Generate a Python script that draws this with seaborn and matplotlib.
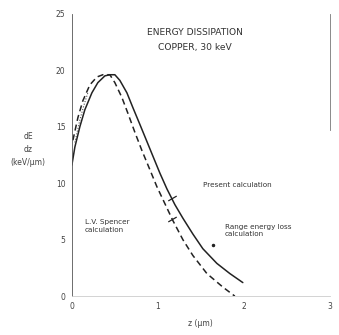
import matplotlib
matplotlib.use("Agg")
import matplotlib.pyplot as plt
import seaborn as sns

# Data (z in micrometres, dE/dz in keV/um)
present_z = [0.0, 0.035, 0.093, 0.151, 0.233, 0.302, 0.384, 0.442, 0.500, 0.558, 0.640,
             0.709, 0.791, 0.872, 0.942, 1.023, 1.105, 1.198, 1.291, 1.407, 1.523,
             1.686, 1.837, 1.988]
present_e = [11.6, 13.2, 15.0, 16.5, 18.0, 18.9, 19.5, 19.6, 19.6, 19.1, 18.0,
             16.7, 15.2, 13.7, 12.4, 10.9, 9.5, 8.1, 6.9, 5.5, 4.2,
             2.9, 2.0, 1.2]

spencer_z = [0.012, 0.070, 0.128, 0.209, 0.291, 0.360, 0.442, 0.500, 0.581, 0.651,
             0.733, 0.814, 0.907, 0.988, 1.081, 1.174, 1.291, 1.407, 1.570, 1.756, 1.895]
spencer_e = [13.8, 15.8, 17.3, 18.7, 19.4, 19.6, 19.6, 18.9, 17.6, 16.2,
             14.5, 12.9, 11.2, 9.7, 8.2, 6.7, 5.0, 3.6, 2.0, 0.8, 0.0]

range_z = [0.035, 0.093, 0.14, 0.19]
range_e = [13.6, 15.6, 16.9, 18.1]

x_ticks = [0, 1, 2, 3]
y_ticks = [0, 5, 10, 15, 20, 25]

sns.set_theme(style="white")
plt.rcParams['font.family'] = ['DejaVu Sans']

fig = plt.figure(figsize=(3.39, 3.35), dpi=100)
ax = fig.add_axes([0.212, 0.116, 0.761, 0.843])

ink = "#222222"
sns.lineplot(x=present_z, y=present_e, ax=ax, color=ink, lw=1.1, sort=False)
sns.lineplot(x=spencer_z, y=spencer_e, ax=ax, color=ink, lw=1.1, sort=False,
             linestyle=(0, (4, 2.5)))
sns.lineplot(x=range_z, y=range_e, ax=ax, color="#555555", lw=0.8, sort=False,
             linestyle=(0, (1, 1.5)))

ax.set_xlim(0, 3.0)
ax.set_ylim(0, 25)
ax.set_xticks(x_ticks)
ax.set_yticks(y_ticks)
ax.tick_params(axis='both', labelsize=5.5, colors="#444444", length=2.5, width=0.6,
               direction='out', pad=2)
ax.spines['top'].set_visible(False)
ax.spines['right'].set_bounds(14.7, 25)
for s in ['left', 'bottom', 'right']:
    ax.spines[s].set_color("#555555")
    ax.spines[s].set_linewidth(0.6)
ax.spines['bottom'].set_color("#cccccc")
ax.spines['right'].set_color("#777777")

ax.set_xlabel("z (\u03bcm)", fontsize=5.5, color="#444444")
ax.xaxis.set_label_coords(0.5, -0.08)
ax.set_ylabel("dE\ndz\n(keV/\u03bcm)", fontsize=5.5, color="#444444",
              rotation=0, ha='center', va='center', linespacing=1.6)
ax.yaxis.set_label_coords(-0.17, 0.52)

tcol = "#333333"
ax.text(1.43, 23.3, "ENERGY DISSIPATION", fontsize=6.6, color=tcol, ha='center', va='center')
ax.text(1.43, 22.0, "COPPER, 30 keV", fontsize=6.6, color=tcol, ha='center', va='center')

ax.text(1.52, 9.8, "Present calculation", fontsize=5.2, color=tcol, va='center', ha='left')
ax.text(0.15, 6.2, "L.V. Spencer\ncalculation", fontsize=5.2, color=tcol, va='center',
        ha='left', linespacing=1.3)
ax.text(1.78, 5.8, "Range energy loss\ncalculation", fontsize=5.2, color=tcol, va='center',
        ha='left', linespacing=1.3)

# short pointer ticks crossing the curves
ax.plot([1.16], [8.7], marker=(2, 0, -60), markersize=7, mew=0.9, color=ink)
ax.plot([1.17], [6.8], marker=(2, 0, -60), markersize=7, mew=0.9, color=ink)
ax.plot([1.64], [4.5], marker='o', markersize=1.5, color=ink)

fig.savefig("out.png", dpi=100)
